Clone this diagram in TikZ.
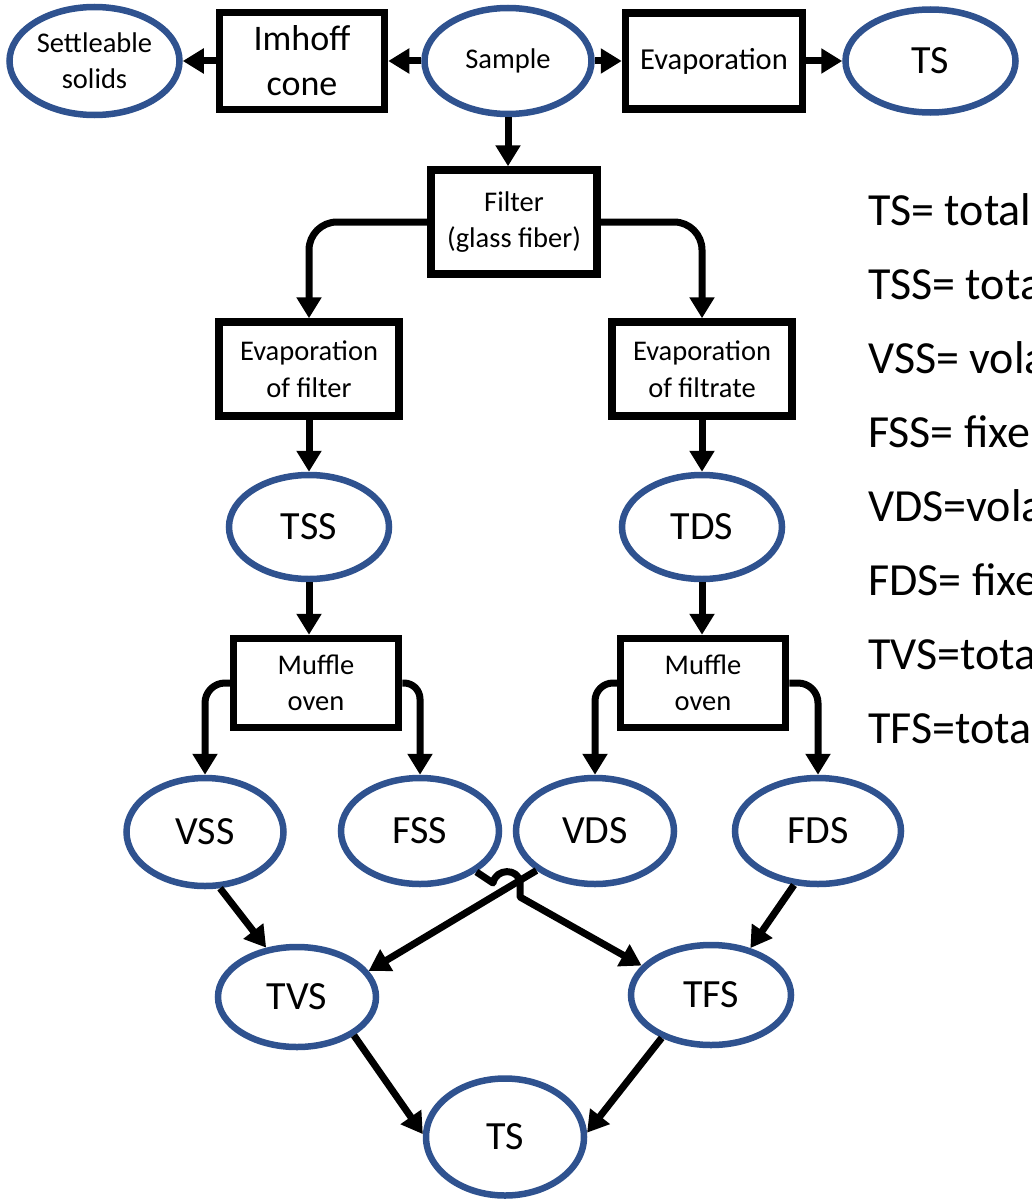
\documentclass[tikz,border=0pt]{standalone}
\usepackage{fontspec}
\setmainfont{Carlito}
\usepackage{xcolor}
\usetikzlibrary{positioning, arrows.meta, shapes.geometric}
\definecolor{ovalblue}{RGB}{47,82,143}

\begin{document}
\begin{tikzpicture}[
        x=1pt, y=-1pt,
        box/.style={
            draw,
            rectangle,
            line width=7.5pt,
            inner sep=0pt,
            align=center,
            font=\fontsize{28.5}{36.5}\selectfont
        },
        oval/.style={
            draw=ovalblue,
            ellipse,
            line width=6.5pt,
            minimum width=158pt,
            minimum height=106pt,
            inner sep=0pt,
            align=center,
            font=\fontsize{40}{48}\selectfont
        },
        legend/.style={anchor=base west, inner sep=0pt, font=\fontsize{46}{55}\selectfont},
        arrow/.style={-{Triangle[length=21pt, width=24pt]}, line width=7pt, line join=round}
    ]
        \useasboundingbox (0,0) rectangle (1032,1199);

        % top row
        \node[oval, minimum width=167pt, font=\fontsize{28.5}{36}\selectfont] (sample) at (508,61) {Sample};
        \node[box, minimum width=165pt, minimum height=97pt, font=\fontsize{36}{45}\selectfont, left=33pt of sample] (imhoff) {Imhoff\\cone};
        \node[oval, minimum width=170pt, minimum height=108pt, font=\fontsize{28.5}{36}\selectfont, left=33pt of imhoff] (settle) {Settleable\\solids};
        \node[box, minimum width=177pt, minimum height=96pt, font=\fontsize{30.5}{38}\selectfont, right=27pt of sample] (evap) {Evaporation};
        \node[oval, minimum width=170pt, minimum height=103pt, right=36pt of evap] (tstop) {TS};

        \node[box, minimum width=166pt, minimum height=104pt] (filter) at (514,222) {Filter\\(glass fiber)};

        % suspended solids
        \node[box, minimum width=180pt, minimum height=94pt] (evfilter) at (309,369) {Evaporation\\of filter};
        \node[oval, minimum width=160pt, minimum height=104pt, below=52pt of evfilter] (tss) {TSS};
        \node[box, minimum width=165pt, minimum height=89pt] (muffleA) at (316,683) {Muffle\\oven};

        % dissolved solids
        \node[box, minimum width=180pt, minimum height=94pt] (evfiltrate) at (702,369) {Evaporation\\of filtrate};
        \node[oval, minimum width=160pt, minimum height=104pt, below=52pt of evfiltrate] (tds) {TDS};
        \node[box, minimum width=165pt, minimum height=89pt] (muffleB) at (703,683) {Muffle\\oven};

        \node[oval, minimum width=157pt, minimum height=108pt] (vss) at (205,832) {VSS};
        \node[oval] (fss) at (420,831) {FSS};
        \node[oval] (vds) at (595,831) {VDS};
        \node[oval, minimum width=166pt] (fds) at (818,831) {FDS};

        \node[oval, minimum height=100pt] (tvs) at (297,997) {TVS};
        \node[oval, minimum width=160pt, minimum height=100pt] (tfs) at (711,995) {TFS};
        \node[oval, minimum height=117pt] (tsbot) at (505,1137) {TS};

        % legend
        \node[legend] (lts) at (868,225) {TS= total};
        \node[legend] (ltss) at (868,299) {TSS= tota};
        \node[legend] (lvss) at (868,373) {VSS= vola};
        \node[legend] (lfss) at (868,447) {FSS= fixe};
        \node[legend] (lvds) at (868,521) {VDS=vola};
        \node[legend] (lfds) at (868,595) {FDS= fixe};
        \node[legend] (ltvs) at (868,669) {TVS=tota};
        \node[legend] (ltfs) at (868,743) {TFS=tota};

        \draw[arrow] (sample.west) -- (imhoff.east);
        \draw[arrow] (imhoff.west) -- (settle.east);
        \draw[arrow] (sample.east) -- (evap.west);
        \draw[arrow] (evap.east) -- (tstop.west);
        \draw[arrow] (sample.south) -- (sample.south |- filter.north);

        \draw[arrow, rounded corners=28pt] (filter.west) -| (evfilter.north);
        \draw[arrow, rounded corners=28pt] (filter.east) -| (evfiltrate.north);
        \draw[arrow] (evfilter) -- (tss);
        \draw[arrow] (evfiltrate) -- (tds);
        \draw[arrow] (tss.south) -- (tss.south |- muffleA.north);
        \draw[arrow] (tds.south) -- (tds.south |- muffleB.north);

        \draw[arrow, rounded corners=20pt] (muffleA.west) -| (vss.north);
        \draw[arrow, rounded corners=16pt] (muffleA.east) -| (fss.north);
        \draw[arrow, rounded corners=18pt] (muffleB.west) -| (vds.north);
        \draw[arrow, rounded corners=20pt] (muffleB.east) -| (fds.north);

        \draw[arrow] (vss.-75) -- (tvs.122);
        \draw[arrow] (vds.-146) -- (tvs.20);
        \draw[arrow] (fss.-36) -- (493,883) .. controls (496,868) and (518,868) .. (520,882) -- (520,897) -- (tfs.157);
        \draw[arrow] (fds.-114) -- (tfs.50);
        \draw[arrow] (tvs.-34) -- (tsbot.178);
        \draw[arrow] (tfs.-139) -- (tsbot.3);

    \end{tikzpicture}
\end{document}
